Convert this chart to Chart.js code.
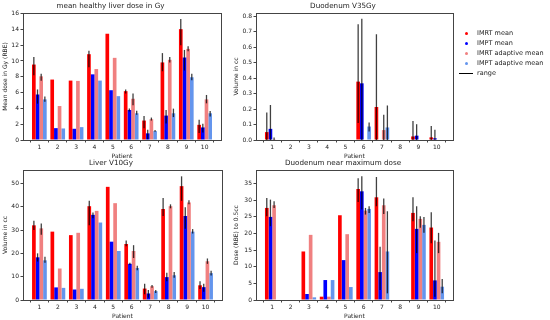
<!DOCTYPE html>
<html>
<head>
<meta charset="utf-8">
<script src="https://cdn.jsdelivr.net/npm/chart.js@4.4.1/dist/chart.umd.min.js"></script>
<style>
    body { margin: 0; background: #fff; }
    #wrap { position: relative; width: 550px; height: 320px; overflow: hidden; background: #fff; }
    canvas { position: absolute; }
    .legend { position: absolute; left: 456px; top: 28px; font-family: "DejaVu Sans", sans-serif; font-size: 6.5px; color: #222; }
    .row { position: relative; height: 10px; line-height: 10px; padding-left: 21px; white-space: nowrap; }
    .dot { position: absolute; left: 9px; top: 4px; width: 3px; height: 3px; border-radius: 50%; }
    .bar { position: absolute; left: 3px; top: 4.5px; width: 14px; height: 1.4px; background: #000; }
</style>
</head>
<body>
<div id="wrap">
    <canvas id="c1" width="225" height="160" style="left:0px;top:0px"></canvas>
    <canvas id="c2" width="224" height="160" style="left:233px;top:0px"></canvas>
    <canvas id="c3" width="226" height="165" style="left:0px;top:155px"></canvas>
    <canvas id="c4" width="224" height="165" style="left:233px;top:155px"></canvas>
    <div class="legend">
        <div class="row"><span class="dot" style="background:#ff0000"></span>IMRT mean</div>
        <div class="row"><span class="dot" style="background:#0000ff"></span>IMPT mean</div>
        <div class="row"><span class="dot" style="background:#f08080"></span>IMRT adaptive mean</div>
        <div class="row"><span class="dot" style="background:#6495ed"></span>IMPT adaptive mean</div>
        <div class="row"><span class="bar"></span>range</div>
    </div>
</div>
<script>
const patients = [1, 2, 3, 4, 5, 6, 7, 8, 9, 10];
const seriesNames = ["IMRT mean", "IMPT mean", "IMRT adaptive mean", "IMPT adaptive mean"];
const seriesColors = ["#ff0000", "#0000ff", "#f08080", "#6495ed"];

// mean healthy liver dose in Gy
const liverDoseImrt   = [9.55, 7.65, 7.52, 10.86, 13.45, 6.18, 2.46, 9.82, 14.03, 1.92];
const liverDoseImpt   = [5.76, 1.5, 1.42, 8.31, 6.3, 3.8, 0.84, 3.09, 10.44, 1.59];
const liverDoseImrtAd = [8.06, 4.3, 7.48, 8.98, 10.4, 5.22, 2.63, 10.15, 11.53, 5.14];
const liverDoseImptAd = [5.14, 1.46, 1.63, 7.52, 5.55, 3.38, 1.13, 3.38, 7.94, 3.38];
const liverDoseImrtRange   = [[8.2, 10.5], null, null, [9.2, 11.3], null, [5.9, 6.4], [1.5, 3.05], [8.7, 11.0], [12.0, 15.3], [0.88, 2.55]];
const liverDoseImptRange   = [[4.6, 6.4], null, null, null, null, [3.6, 4.0], [0.1, 1.3], [2.1, 3.8], [8.8, 11.4], [0.96, 2.05]];
const liverDoseImrtAdRange = [[7.5, 8.4], null, null, null, null, [4.4, 5.9], [2.46, 2.84], [9.8, 10.5], [11.24, 11.86], [4.64, 5.7]];
const liverDoseImptAdRange = [[4.85, 5.5], null, null, null, null, [3.2, 3.7], [1.05, 1.25], [2.9, 3.97], [7.56, 8.4], [2.97, 3.68]];

// Duodenum V35Gy
const v35Imrt   = [0.051, 0, 0, 0, 0, 0.377, 0.213, 0, 0.023, 0.017];
const v35Impt   = [0.072, 0, 0, 0, 0, 0.366, 0, 0, 0.028, 0.011];
const v35ImrtAd = [0.002, 0, 0, 0, 0, 0, 0.064, 0, 0, 0];
const v35ImptAd = [0, 0, 0, 0, 0, 0.087, 0.081, 0, 0, 0];
const v35ImrtRange   = [[0, 0.177], null, null, null, null, [0.109, 0.747], [0, 0.683], null, [0, 0.123], [0, 0.091]];
const v35ImptRange   = [[0, 0.226], null, null, null, null, [0, 0.783], null, null, [0, 0.102], [0, 0.066]];
const v35ImrtAdRange = [[0, 0.016], null, null, null, null, null, [0, 0.163], null, null, null];
const v35ImptAdRange = [null, null, null, null, null, [0.055, 0.113], [0, 0.223], null, null, null];

// Liver V10Gy
const v10Imrt   = [32, 29.3, 27.8, 40.2, 48.5, 24, 4.9, 39, 48.8, 6.3];
const v10Impt   = [18.3, 5.4, 4.5, 36.5, 25, 15.5, 2.8, 9.8, 36, 5.5];
const v10ImrtAd = [30.7, 13.5, 28.8, 38.2, 41.5, 21, 5.9, 40.2, 41.8, 16.6];
const v10ImptAd = [17, 5.2, 4.8, 33.2, 21, 13.7, 3.8, 10.6, 29.3, 11.5];
const v10ImrtRange   = [[30, 34], null, null, [32, 42.5], null, [23, 25.5], [2.5, 7], [36, 43.7], [42.5, 53], [4.7, 8]];
const v10ImptRange   = [[16.5, 20], null, null, [35, 37.5], null, [15, 16], [1, 4.3], [8, 11.7], [30.5, 39.7], [3.5, 7]];
const v10ImrtAdRange = [[28, 32.8], null, null, null, null, [18, 23.5], [5.3, 6.4], [39.3, 41], [41, 42.7], [15.5, 17.8]];
const v10ImptAdRange = [[16, 18.5], null, null, null, null, [12.7, 14.7], [3, 4.3], [9.5, 12], [28.5, 30.4], [10.5, 12.5]];

// Duodenum near maximum dose
const dmaxImrt   = [27.7, 0, 14.6, 1.0, 25.5, 33.4, 30.9, 0, 26.2, 21.8];
const dmaxImpt   = [25, 0, 1.8, 6.0, 12, 32.7, 8.4, 0, 21.4, 5.9];
const dmaxImrtAd = [28.5, 0, 19.6, 1.0, 19.8, 26.9, 28.5, 0, 24.4, 17.5];
const dmaxImptAd = [0, 0, 0.8, 6.0, 3.9, 27.4, 14.6, 0, 22.6, 4];
const dmaxImrtRange   = [[25.2, 30.7], null, null, null, null, [29.5, 36.6], [28.2, 37], null, [23.7, 30.9], [17.1, 26.4]];
const dmaxImptRange   = [[22.2, 30.2], null, null, null, null, [27.2, 37.2], [3, 16], null, [14.1, 28.2], [1, 17.9]];
const dmaxImrtAdRange = [[27.7, 29.7], null, null, null, null, [25.7, 27.7], [25.9, 30.5], null, [21.7, 25.2], [14.1, 20.2]];
const dmaxImptAdRange = [null, null, null, null, null, [26.2, 28.2], [2, 26.7], null, [20.2, 25], [2, 6.3]];

const FONT = "'DejaVu Sans', sans-serif";
const TEXT = "#222";

// range lines drawn at each bar's centre
const rangePlugin = {
    id: "ranges",
    afterDatasetsDraw(chart) {
        const ctx = chart.ctx;
        const y = chart.scales.y;
        ctx.save();
        ctx.strokeStyle = "rgba(0,0,0,0.75)";
        ctx.lineWidth = 1.3;
        chart.data.datasets.forEach((ds, i) => {
            const meta = chart.getDatasetMeta(i);
            meta.data.forEach((bar, j) => {
                const r = ds.ranges[j];
                if (!r) return;
                ctx.beginPath();
                ctx.moveTo(bar.x, y.getPixelForValue(r[0]));
                ctx.lineTo(bar.x, y.getPixelForValue(r[1]));
                ctx.stroke();
            });
        });
        ctx.restore();
    }
};

// matplotlib style box around the plot
const framePlugin = {
    id: "frame",
    afterDraw(chart) {
        const a = chart.chartArea;
        const ctx = chart.ctx;
        ctx.save();
        ctx.strokeStyle = "#444";
        ctx.lineWidth = 1;
        ctx.strokeRect(Math.round(a.left) + 0.5, Math.round(a.top) + 0.5, Math.round(a.right - a.left), Math.round(a.bottom - a.top));
        ctx.restore();
    }
};

function makeChart(id, title, yLabel, yMax, yStep, decimals, values, ranges, opts) {
    const datasets = values.map((vals, i) => ({
        label: seriesNames[i],
        data: patients.map((p, k) => ({ x: p, y: vals[k] })),
        ranges: ranges[i],
        backgroundColor: seriesColors[i],
        borderWidth: 0,
        categoryPercentage: 0.8,
        barPercentage: 1.0
    }));

    return new Chart(document.getElementById(id), {
        type: "bar",
        data: { datasets: datasets },
        options: {
            responsive: false,
            animation: false,
            devicePixelRatio: 1,
            layout: { padding: { left: 0, right: opts.padRight, top: 0, bottom: 0 } },
            plugins: {
                legend: { display: false },
                tooltip: { enabled: false },
                title: {
                    display: true,
                    text: title,
                    color: TEXT,
                    font: { family: FONT, size: 7.2, weight: "normal", lineHeight: 1.2 },
                    padding: { top: opts.titleTop, bottom: 2.4 }
                }
            },
            scales: {
                x: {
                    type: "linear",
                    min: 0.11,
                    max: 10.89,
                    offset: false,
                    afterBuildTicks: (s) => { s.ticks = patients.map(v => ({ value: v })); },
                    afterFit: (s) => { s.height = 20; },
                    border: { display: false },
                    grid: { drawOnChartArea: false, drawTicks: true, tickLength: 2.5, color: "#444" },
                    ticks: { color: TEXT, font: { family: FONT, size: 6 }, padding: 1.5, maxRotation: 0, autoSkip: false },
                    title: { display: true, text: "Patient", color: TEXT, font: { family: FONT, size: 6 }, padding: { top: 1, bottom: 0 } }
                },
                y: {
                    min: 0,
                    max: yMax,
                    afterFit: (s) => { s.width = 23; },
                    border: { display: false },
                    grid: { drawOnChartArea: false, drawTicks: true, tickLength: 2.5, color: "#444" },
                    ticks: {
                        stepSize: yStep,
                        includeBounds: false,
                        color: TEXT,
                        font: { family: FONT, size: 6 },
                        padding: 1.5,
                        callback: (v) => Number(v).toFixed(decimals)
                    },
                    title: { display: true, text: yLabel, color: TEXT, font: { family: FONT, size: 6 }, padding: { top: opts.yTitleTop, bottom: 0 } }
                }
            }
        },
        plugins: [rangePlugin, framePlugin]
    });
}

makeChart("c1", "mean healthy liver dose in Gy", "Mean dose in Gy (RBE)", 16.07, 2, 0,
    [liverDoseImrt, liverDoseImpt, liverDoseImrtAd, liverDoseImptAd],
    [liverDoseImrtRange, liverDoseImptRange, liverDoseImrtAdRange, liverDoseImptAdRange],
    { padRight: 4, titleTop: 2, yTitleTop: 2 });

makeChart("c2", "Duodenum V35Gy", "Volume in cc", 0.82, 0.1, 1,
    [v35Imrt, v35Impt, v35ImrtAd, v35ImptAd],
    [v35ImrtRange, v35ImptRange, v35ImrtAdRange, v35ImptAdRange],
    { padRight: 4, titleTop: 2, yTitleTop: 0 });

makeChart("c3", "Liver V10Gy", "Volume in cc", 55.7, 10, 0,
    [v10Imrt, v10Impt, v10ImrtAd, v10ImptAd],
    [v10ImrtRange, v10ImptRange, v10ImrtAdRange, v10ImptAdRange],
    { padRight: 4, titleTop: 4, yTitleTop: 2 });

makeChart("c4", "Duodenum near maximum dose", "Dose (RBE) to 0.5cc", 39.1, 5, 0,
    [dmaxImrt, dmaxImpt, dmaxImrtAd, dmaxImptAd],
    [dmaxImrtRange, dmaxImptRange, dmaxImrtAdRange, dmaxImptAdRange],
    { padRight: 4, titleTop: 4, yTitleTop: 0 });
</script>
</body>
</html>
